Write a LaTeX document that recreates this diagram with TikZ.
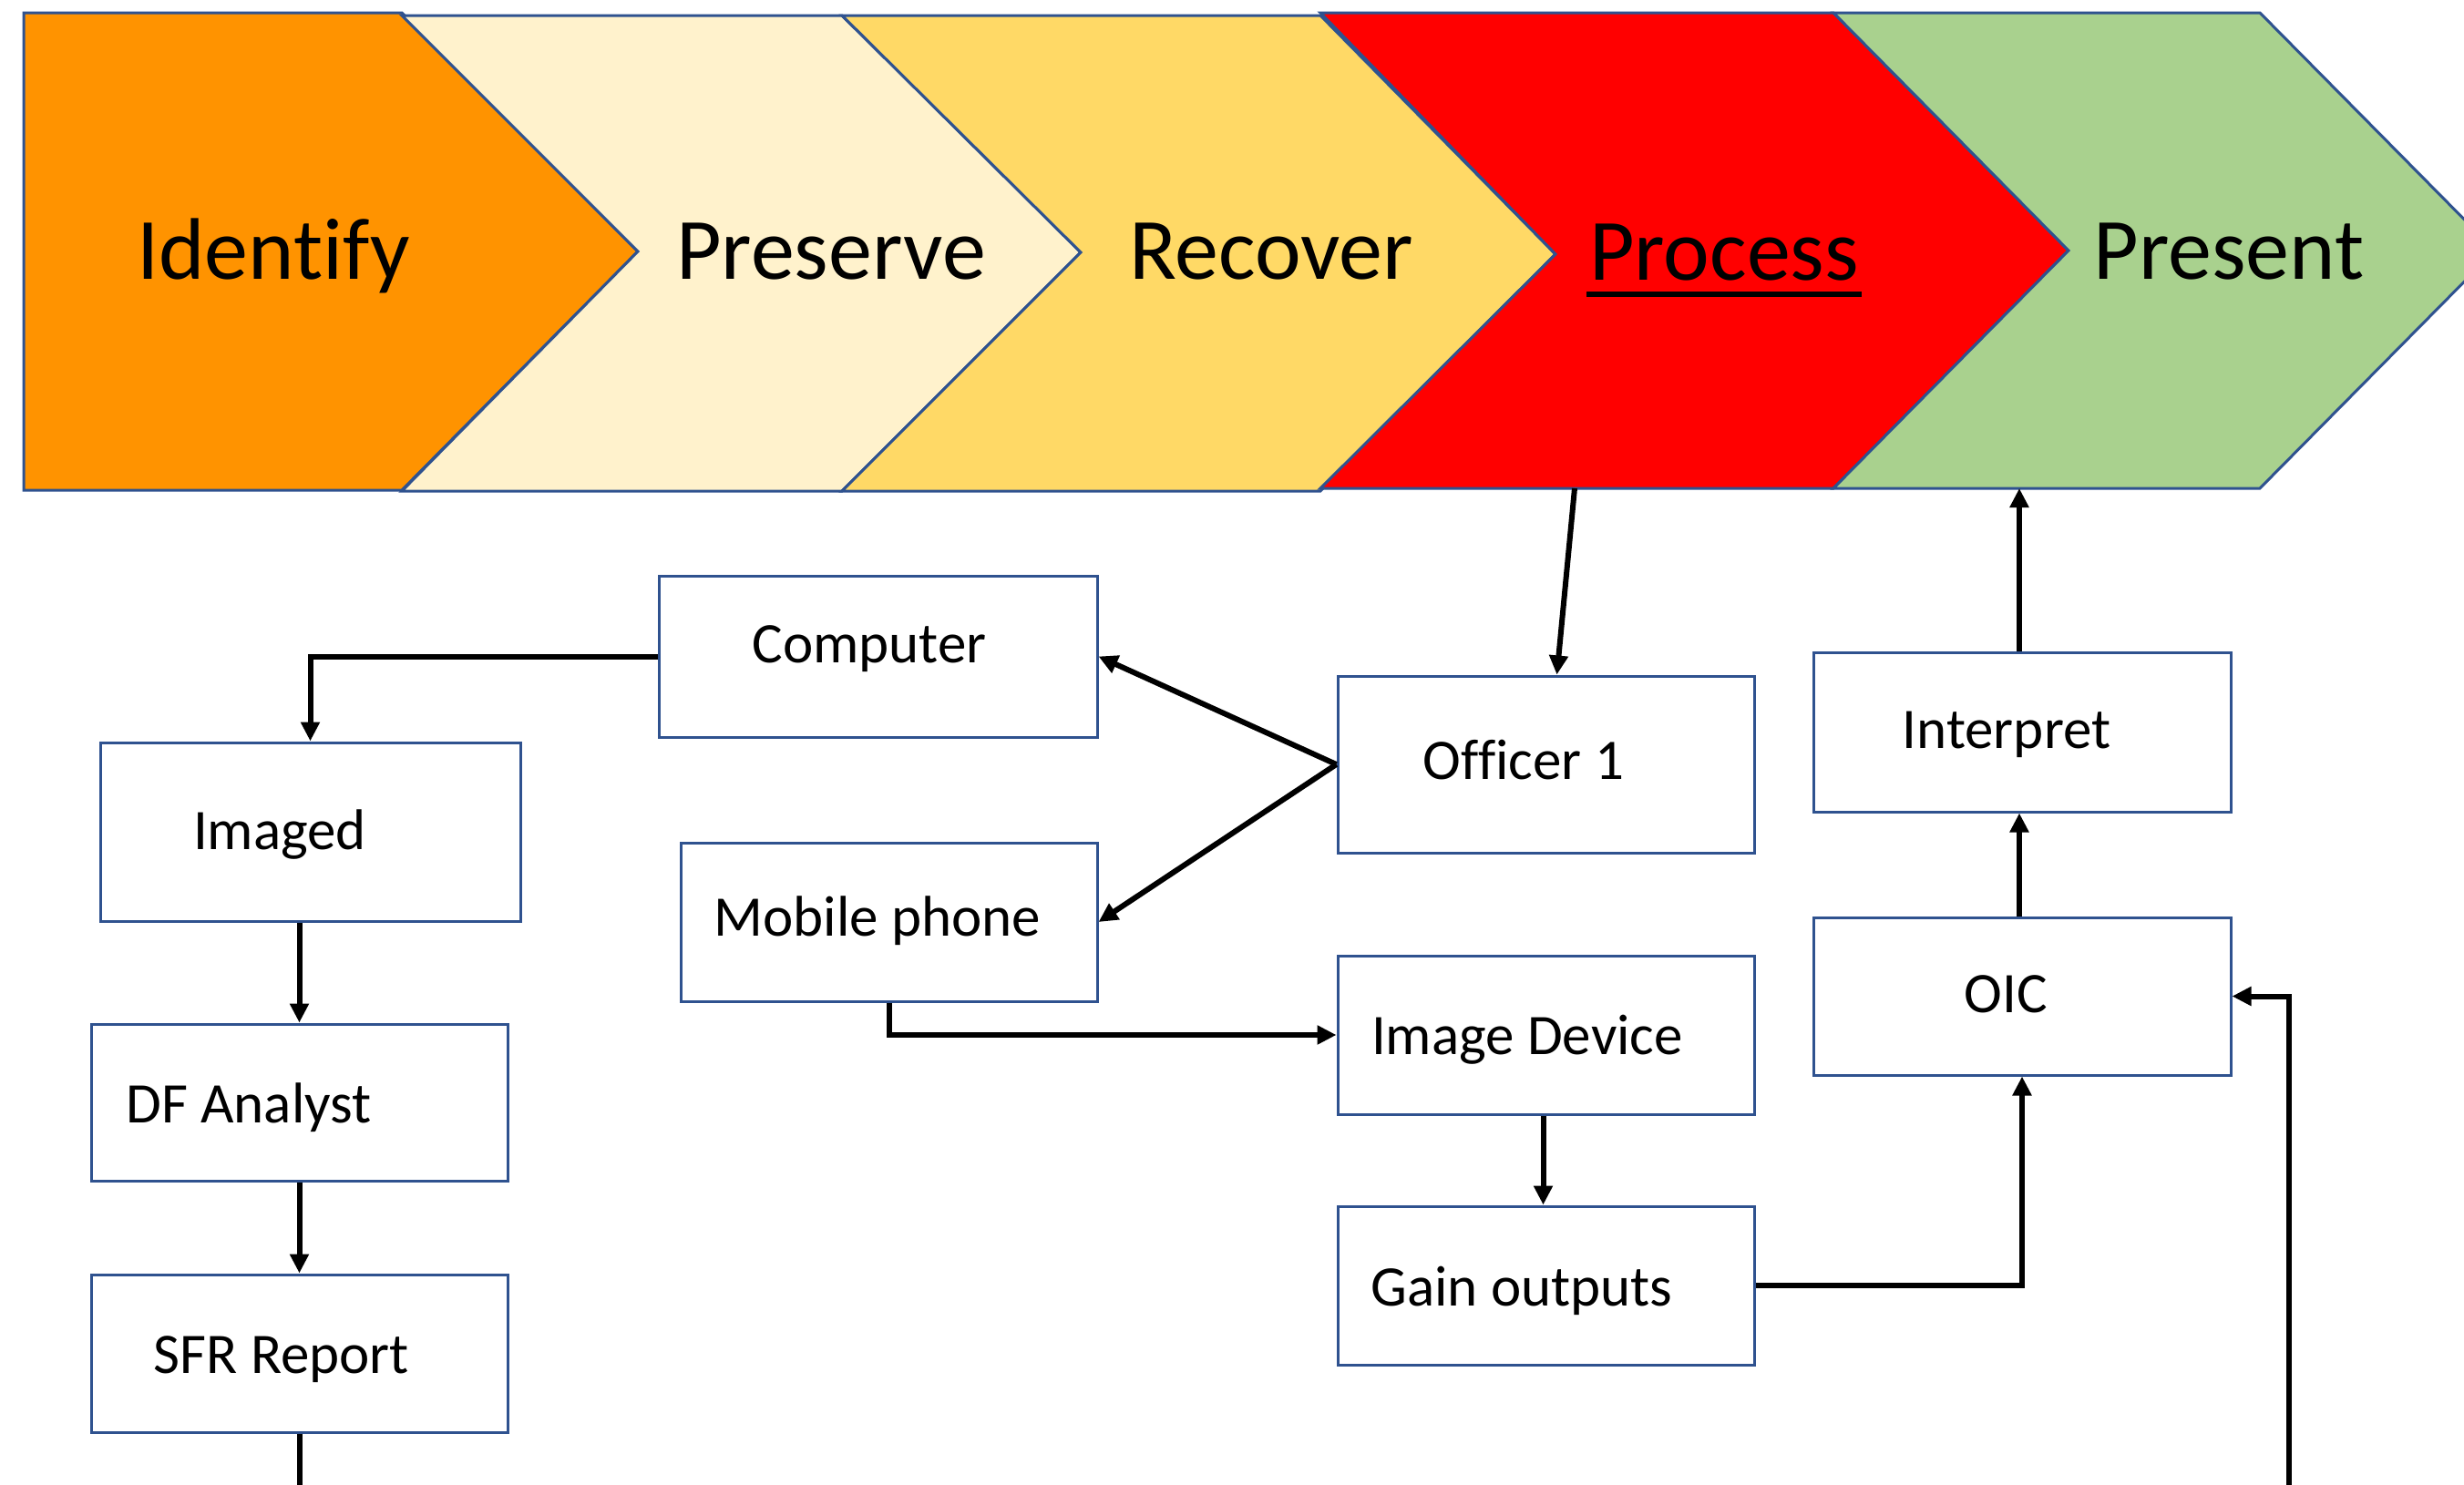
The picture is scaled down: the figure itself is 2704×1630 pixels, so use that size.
\documentclass[tikz,border=0pt]{standalone}
\usepackage{fontspec}
\setmainfont{Carlito}[Ligatures={NoCommon}]
\usetikzlibrary{arrows.meta,calc}
\definecolor{edgeblue}{HTML}{2F528F}
\definecolor{phaseA}{HTML}{FF9300}
\definecolor{phaseB}{HTML}{FFF2CC}
\definecolor{phaseC}{HTML}{FFD966}
\definecolor{phaseD}{HTML}{FF0000}
\definecolor{phaseE}{HTML}{A9D18E}
\begin{document}
\begin{tikzpicture}[x=1pt,y=-1pt,
  box/.style={draw=edgeblue,line width=3pt,fill=white,inner sep=0pt},
  phase/.style={draw=edgeblue,line width=3pt,line join=miter},
  phasetxt/.style={font=\fontsize{96}{110}\selectfont,anchor=base,inner sep=0pt},
  boxtxt/.style={font=\fontsize{63}{75}\selectfont,anchor=base,inner sep=0pt},
  link/.style={line width=6pt,-{Triangle[length=21pt,width=20pt]}},
  ]
\useasboundingbox (0,0) rectangle (2704,1630);
\clip (0,0) rectangle (2704,1630);

% phase chevrons
\draw[phase,fill=phaseA] (26,14) -- (441,14) -- (700,276) -- (441,538) -- (26,538) -- cycle;
\draw[phase,fill=phaseB] (441,17) -- (924,17) -- (1186,277) -- (924,539) -- (441,539) -- (700,276) -- cycle;
\draw[phase,fill=phaseC] (924,17) -- (1449,17) -- (1707,279) -- (1449,539) -- (924,539) -- (1186,277) -- cycle;
\draw[phase,fill=phaseD] (1449,14) -- (2012,14) -- (2270,275) -- (2012,536) -- (1449,536) -- (1707,279) -- cycle;
\draw[phase,fill=phaseE] (2012,14) -- (2480,14) -- (2738,275) -- (2480,536) -- (2012,536) -- (2270,275) -- cycle;

\node[phasetxt] (identify) at (300,306) {Identify};
\node[phasetxt] (preserve) at (912,306) {Preserve};
\node[phasetxt] (recover) at (1395,306) {Recover};
\node[phasetxt] (process) at (1892,307) {Process};
\node[phasetxt] (present) at (2446,306) {Present};
\draw[line width=6pt] ($(process.base west)+(-3,16)$) -- ($(process.base east)+(3,16)$);

\coordinate (procbot) at (1728,536);
\coordinate (presbot) at (2216,536);
\coordinate (loopbot) at (2512,1700);

% boxes
\node[box,minimum width=481pt,minimum height=177pt] (comp) at (963.5,720.5) {};
\node[box,minimum width=461pt,minimum height=196pt] (imaged) at (340.5,913) {};
\node[box,minimum width=457pt,minimum height=174pt] (mobile) at (975.5,1012) {};
\node[box,minimum width=457pt,minimum height=172pt] (df) at (328.5,1210) {};
\node[box,minimum width=457pt,minimum height=173pt] (sfr) at (328.5,1485.5) {};
\node[box,minimum width=457pt,minimum height=194pt] (officer) at (1696.5,839) {};
\node[box,minimum width=458pt,minimum height=175pt] (interp) at (2219,803.5) {};
\node[box,minimum width=458pt,minimum height=173pt] (oic) at (2219,1093.5) {};
\node[box,minimum width=457pt,minimum height=174pt] (imgdev) at (1696.5,1136) {};
\node[box,minimum width=457pt,minimum height=174pt] (gain) at (1696.5,1411) {};

\node[boxtxt] (comp-t) at (954,727) {Computer};
\node[boxtxt] (imaged-t) at (307,932) {Imaged};
\node[boxtxt] (mobile-t) at (963,1027) {Mobile phone};
\node[boxtxt] (df-t) at (273,1232) {DF Analyst};
\node[boxtxt] (sfr-t) at (309,1507) {SFR Report};
\node[boxtxt] (officer-t) at (1672,855) {Officer 1};
\node[boxtxt] (interp-t) at (2202,821) {Interpret};
\node[boxtxt] (oic-t) at (2201,1111) {OIC};
\node[boxtxt] (imgdev-t) at (1676,1157) {Image Device};
\node[boxtxt] (gain-t) at (1670,1433) {Gain outputs};

% connectors
\draw[link] (procbot) -- ($(officer.north)+(12,0)$);
\draw[link] (officer.west) -- (comp.east);
\draw[link] (officer.west) -- (mobile.east);
\draw[link] (comp.west) -| (imaged.north);
\draw[link] (df.north |- imaged.south) -- (df.north);
\draw[link] (sfr.north |- df.south) -- (sfr.north);
\draw[link] (mobile.south) |- (imgdev.west);
\draw[link] ($(imgdev.south)+(-3,0)$) -- ($(gain.north)+(-3,0)$);
\draw[link] (gain.east) -| (oic.south);
\draw[link] ($(oic.north)+(-3,0)$) -- ($(interp.south)+(-3,0)$);
\draw[link] ($(interp.north)+(-3,0)$) -- (presbot);
\draw[link] (sfr.south) |- (loopbot) |- (oic.east);
\end{tikzpicture}
\end{document}
